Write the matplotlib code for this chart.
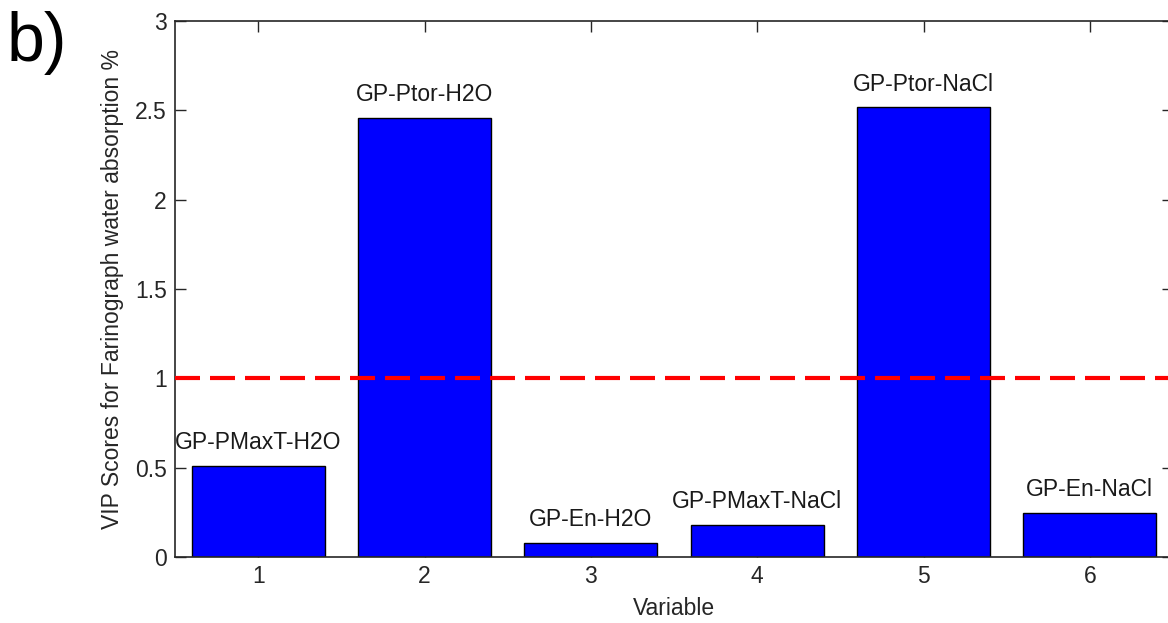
import matplotlib
matplotlib.use("Agg")
import matplotlib.pyplot as plt

plt.rcParams['font.family'] = ['Liberation Sans', 'DejaVu Sans']

variables = [1, 2, 3, 4, 5, 6]
vip_scores = [0.509, 2.457, 0.079, 0.180, 2.516, 0.245]
bar_labels = ['GP-PMaxT-H2O', 'GP-Ptor-H2O', 'GP-En-H2O',
              'GP-PMaxT-NaCl', 'GP-Ptor-NaCl', 'GP-En-NaCl']
threshold = 1.0
yticks = [0, 0.5, 1, 1.5, 2, 2.5, 3]
ytick_labels = ['0', '0.5', '1', '1.5', '2', '2.5', '3']

fig = plt.figure(figsize=(11.68, 6.23), dpi=100)
ax = fig.add_axes([175/1168, 1 - 557/623, (1173 - 175)/1168, (557 - 21)/623])

ax.bar(variables, vip_scores, width=0.8, color='#0000FF', edgecolor='black', linewidth=1.0, zorder=2)
ax.axhline(threshold, color='#FF0000', linestyle=(0, (6, 2.4)), linewidth=3, zorder=3)

fs = 16.5
for x, v, lab in zip(variables, vip_scores, bar_labels):
    ax.text(x, v + 0.13, lab, ha='center', va='center', fontsize=fs, color='#1a1a1a')

ax.set_xlim(0.5, 6.5)
ax.set_ylim(0, 3)
ax.set_xticks(variables)
ax.set_xticklabels([str(v) for v in variables])
ax.set_yticks(yticks)
ax.set_yticklabels(ytick_labels)
ax.tick_params(direction='in', length=8, width=1, top=True, right=True,
               labelsize=fs, colors='#262626', pad=6)
for s in ax.spines.values():
    s.set_linewidth(1.2)
    s.set_color('#262626')

ax.set_xlabel('Variable', fontsize=fs, color='#262626', labelpad=6)
ax.set_ylabel('VIP Scores for Farinograph water absorption %', fontsize=fs, color='#262626', labelpad=8)

fig.text(0.006, 0.982, 'b)', fontsize=49, va='top', ha='left', color='black')

fig.savefig('out.png', dpi=100)
